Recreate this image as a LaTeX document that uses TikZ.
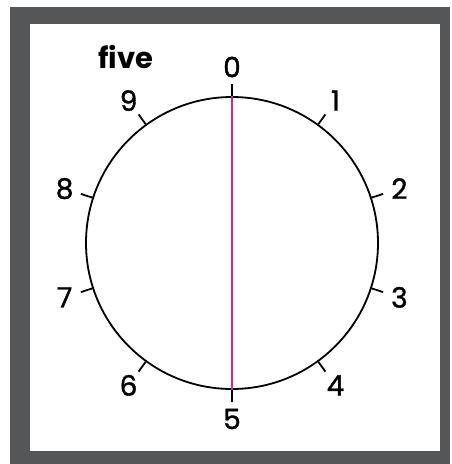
\documentclass[tikz,border=0pt]{standalone}
\usepackage{fontspec}
\setmainfont{Poppins}
\newfontfamily\digitfont[FakeBold=1.2]{Poppins}
\usepackage{tikz}
\usetikzlibrary{calc}
\definecolor{framegray}{RGB}{85,86,88}
\definecolor{cut}{RGB}{214,40,128}

\begin{document}
\begin{tikzpicture}[x=1pt, y=-1pt,
  dial/.style={draw, circle, line width=1.8pt, minimum size=292pt, inner sep=0pt},
  tickmark/.style={line width=1.8pt},
  digit/.style={font=\digitfont\fontsize{28}{28}\selectfont, inner sep=0pt},
  title/.style={font=\bfseries\fontsize{29}{29}\selectfont, inner sep=0pt},
  cutline/.style={draw=cut, line width=2pt}]

  % frame and page
  \useasboundingbox (0,0) rectangle (451,464);
  \fill[framegray] (10,7) rectangle (450,464);
  \fill[white] (30,24) rectangle (440,451);

  \node[dial] (dial) at (232,243) {};
  \draw[cutline] (dial.north) -- (dial.south);

  % ticks and digits, clockwise from the top
  \foreach \d in {0,...,9} {
    \pgfmathsetmacro{\ang}{90-36*\d}
    \draw[tickmark] (dial.\ang) -- ++(\ang:12pt);
    \node[digit] (n\d) at ($(dial.center)+(\ang:176pt)$) {\d};
  }

  \node[title, anchor=base] (name) at (126,68) {five};
\end{tikzpicture}
\end{document}
